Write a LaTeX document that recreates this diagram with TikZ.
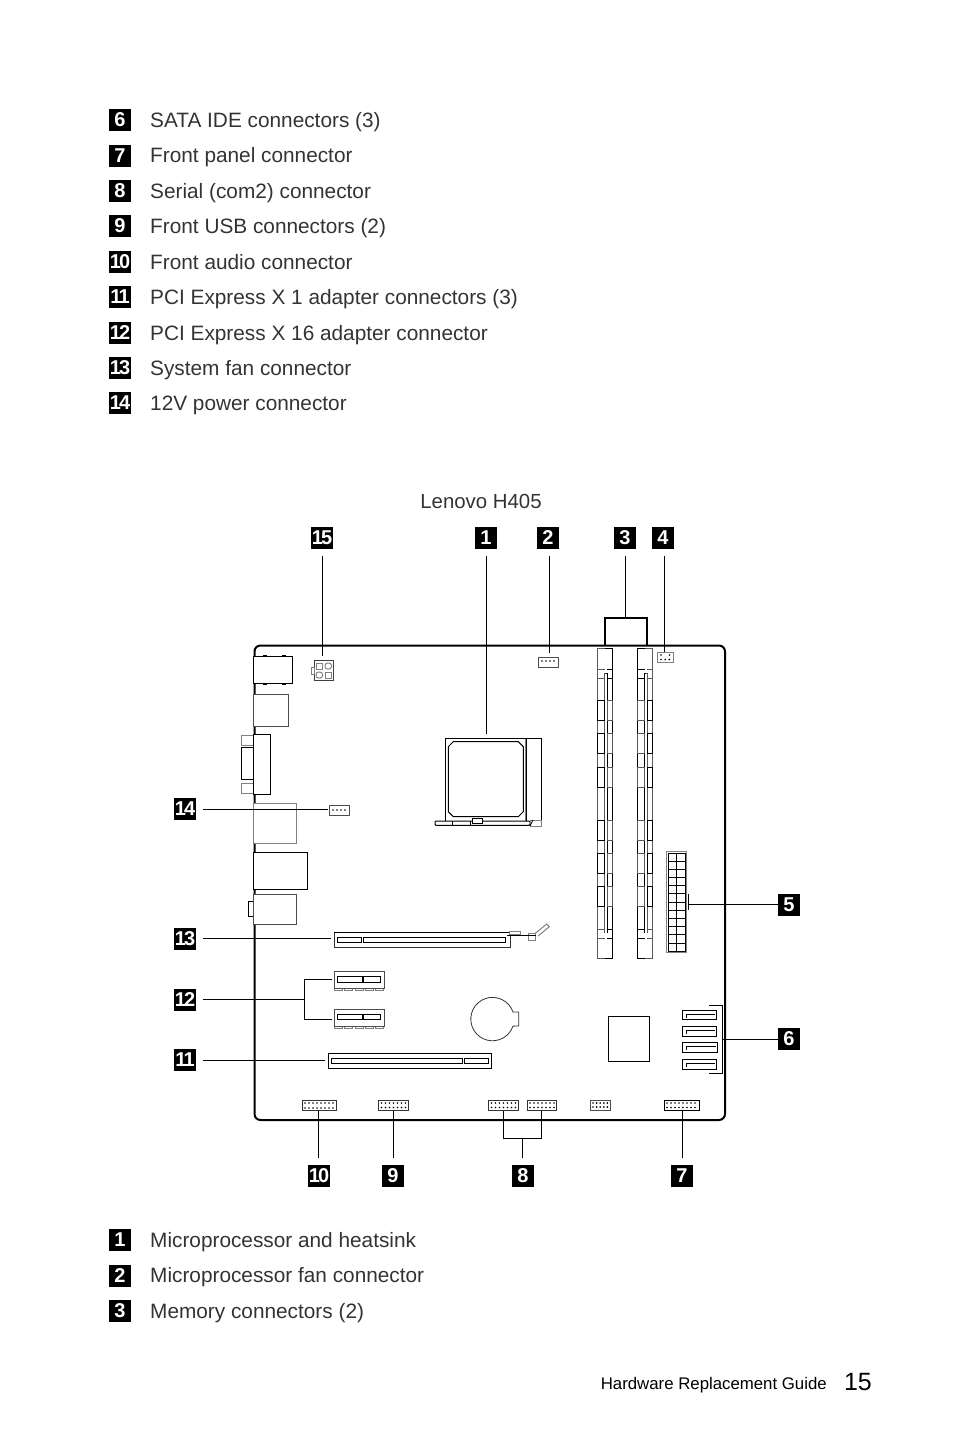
\documentclass[tikz,border=0pt]{standalone}
\usepackage{fontspec}
\setmainfont{Liberation Sans}
\newfontfamily\badgefont[LetterSpace=-9]{Liberation Sans}
\definecolor{inktext}{gray}{0.2}
\definecolor{soft}{gray}{0.5}
\tikzset{
	badge/.style={fill=black,text=white,minimum size=22,inner sep=0,outer sep=0,font=\badgefont\bfseries\fontsize{20}{20}\selectfont},
	callout/.style={badge,outer sep=7},
	item/.style={anchor=base west,inner sep=0,text=inktext,font=\fontsize{20.8}{26}\selectfont},
	part/.style={line width=1,fill=white},
	softpart/.style={part,draw=soft},
	leader/.style={line width=1.2}
}
\newcommand{\pinrow}[4]{\foreach \i in {1,...,#3} \fill ({#1+(\i-1)*#2},#4) circle (.95);}
\newcommand{\memslot}[3]{
	\draw[line width=1,#2] (#1,669.5)--(#1+7,669.5) (#1,678.5)--(#1+7,678.5) (#1,929.5)--(#1+7,929.5) (#1,938.5)--(#1+7,938.5);
	\draw[line width=1,#3] (#1+9,669.5)--(#1+15,669.5) (#1+9,678.5)--(#1+15,678.5) (#1+9,929.5)--(#1+15,929.5) (#1+9,938.5)--(#1+15,938.5);
	\draw[line width=1,#2] (#1+7,958.5)--(#1,958.5)--(#1,648.5)--(#1+7,648.5);
	\draw[line width=1,#3] (#1+7,958.5)--(#1+15,958.5)--(#1+15,648.5)--(#1+7,648.5);
	\draw[line width=1,#2] (#1+7,933)--(#1+7,673)--(#1+8.2,673);
	\draw[line width=1,#3] (#1+8.2,673)--(#1+9.5,673)--(#1+9.5,933);
	\foreach \y in {700.5,733.5,767.5,820.5,853.5,886.5}{
		\draw[part,draw=#3] (#1,\y) rectangle (#1+7,\y+20);
		\draw[part,draw=#2] (#1+9.5,\y) rectangle (#1+15,\y+20);
	}
}
\newcommand{\sataport}[3]{
	\draw[line width=1.2] (682.5,#1) rectangle (#3,#2);
	\draw[line width=.8] (686.7,#1+7) -- (686.7,#1+4) -- (#3-2,#1+4);
}
\begin{document}
\begin{tikzpicture}[x=1pt,y=-1pt]
	\useasboundingbox (0,0) rectangle (954,1452);
	\foreach \n/\y/\txt in {6/120/{SATA IDE connectors (3)},7/155.5/{Front panel connector},8/191/{Serial (com2) connector},9/226/{Front USB connectors (2)},10/262/{Front audio connector},11/297/{PCI Express X 1 adapter connectors (3)},12/333/{PCI Express X 16 adapter connector},13/368/{System fan connector},14/403/{12V power connector},1/1240/{Microprocessor and heatsink},2/1275.5/{Microprocessor fan connector},3/1311/{Memory connectors (2)}}{
		\node[badge] (l\n) at (120,\y) {\n};
		\node[item] (t\n) at (150,\y+7) {\txt};
	}
	\node[item,anchor=base,font=\fontsize{20.4}{24}\selectfont] (model) at (481,508) {Lenovo H405};
	\node[item,anchor=base east,text=black,font=\fontsize{16.8}{20}\selectfont] (guide) at (827,1389) {Hardware Replacement Guide};
	\node[item,anchor=base east,text=black,font=\fontsize{25}{30}\selectfont] (page) at (872,1390) {15};

	\draw[line width=2,rounded corners=6] (254.5,645.5) rectangle (725,1120);

	\draw[line width=1] (263,655)--(267,655) (282,655)--(286,655) (263,684.5)--(267,684.5) (282,684.5)--(286,684.5);
	\draw[part] (253.5,656) rectangle (292.5,683.5);
	\draw[softpart,draw=black!70] (253,694.5) rectangle (288.5,726.5);
	\draw[softpart] (241.7,735) rectangle (253.5,745);
	\draw[part,line width=.8] (241.7,747) rectangle (253.5,779);
	\draw[softpart] (241.7,783) rectangle (253.5,793);
	\draw[part] (253.5,734.5) rectangle (270.5,794.5);
	\draw[softpart] (253,803.5) rectangle (296.5,843.5);
	\draw[part] (253.5,852.5) rectangle (307.5,889.5);
	\draw[part] (248,901) rectangle (253.5,916);
	\draw[softpart,draw=black!70] (253.5,894) rectangle (296.5,924.5);

	\draw[part,draw=black!75] (314,660.7) rectangle (333.5,680);
	\draw[softpart] (311.5,667) rectangle (314,674);
	\draw[softpart] (316,663) rectangle (322.5,669);
	\draw[softpart,rounded corners=2.5] (325,663) -- (331.5,663) -- (331.5,669) -- (325,669) -- cycle;
	\draw[softpart,rounded corners=2.5] (316,672) -- (322.5,672) -- (322.5,678) -- (316,678) -- cycle;
	\draw[softpart] (325,672) rectangle (331.5,678);

	\draw[part] (445.5,738.5) rectangle (541.5,821);
	\draw[softpart] (525,738.5) -- (525,821);
	\draw[line width=1] (526.5,738.5) -- (526.5,821);
	\draw[part] (453.3,741.7)--(518.3,741.7)--(523.3,746.7)--(523.3,811.7)--(518.3,816.7)--(453.3,816.7)--(448.3,811.7)--(448.3,746.7)--cycle;
	\draw[part,rounded corners=1] (435,821) rectangle (530,825.3);
	\draw[part] (472,818.5) rectangle (482,823);
	\draw[line width=.8] (452,821)--(452,825) (470,821)--(470,825);
	\draw[softpart] (530,820) rectangle (541.5,826);
	\draw[line width=.8] (530,826)--(533,820);

	\draw[softpart,draw=black!70] (538.5,657.5) rectangle (558,667);
	\pinrow{542}{4}{4}{661}
	\draw[softpart,draw=black!70] (329.5,805) rectangle (349,815);
	\pinrow{333}{4}{4}{810}
	\draw[softpart] (657.7,652.3) rectangle (673.5,662);
	\pinrow{661}{8.5}{2}{655}
	\pinrow{661}{4.2}{3}{659.5}

	\memslot{597.5}{black!65}{black}
	\memslot{637.5}{black}{black!65}

	\draw[softpart] (666.7,851.5) rectangle (686,952.5);
	\draw[line width=1] (668,853) rectangle (685,951);
	\draw[line width=.8] (676.5,853)--(676.5,951);
	\foreach \y in {861,869.2,...,943.2} \draw[line width=.8] (668,\y)--(685,\y);

	\draw[line width=1] (608.5,1016) rectangle (649.5,1061.5);
	\sataport{1010.5}{1019.5}{716.5}
	\sataport{1026.5}{1036.5}{716.5}
	\sataport{1042.5}{1052.5}{717.5}
	\sataport{1059.5}{1069.5}{716.5}

	\draw[softpart,draw=black!80] (334,932.5) rectangle (510,947.5);
	\draw[line width=1] (334,932.5) -- (510,932.5);
	\draw[line width=.8] (337,937.5) rectangle (361.5,942.5);
	\draw[line width=.8] (363.5,937.5) rectangle (505,942.5);
	\draw[softpart] (509,931.5) rectangle (520,934);
	\draw[softpart] (528.5,933) rectangle (535,940.7);
	\draw[line width=1] (507,935) -- (536,935);
	\draw[softpart] (535,933.5)--(546.7,924)--(549.3,926.7)--(538,936);

	\foreach \y in {971.7,1009.3}{
		\foreach \x in {334.5,344.7,355,365.3,375.6} \draw[softpart,fill=none] (\x,\y+17) rectangle (\x+8,\y+19);
		\draw[softpart,draw=black!70] (334.3,\y) rectangle (384,\y+17);
		\draw[line width=.8] (337,\y+5) rectangle (362.5,\y+10.5);
		\draw[line width=.8] (363.5,\y+5) rectangle (380.5,\y+10.5);
	}

	\draw[line width=.8,draw=black!80] (518.7,1012) -- (513,1012) arc[start angle=-19,end angle=-341,radius=21.7] -- (518.7,1026) -- cycle;
	\draw[line width=1.2] (328.5,1053.5) rectangle (491.5,1068.5);
	\draw[line width=1] (331.5,1058.5) rectangle (462,1063.5);
	\draw[line width=1] (464.5,1058.5) rectangle (488.5,1063.5);

	\foreach \a/\b in {302.5/336.5,378.5/408.5,488.5/518.5,527.5/556.5}{
		\draw[line width=1,draw=black!80] (\a,1100.5) rectangle (\b,1110.5);
	}
	\pinrow{305}{4}{8}{1108}
	\pinrow{305}{4}{8}{1103}
	\pinrow{381.5}{4}{7}{1103}
	\pinrow{381.5}{4}{7}{1107.5}
	\pinrow{491.5}{4}{7}{1103}
	\pinrow{491.5}{4}{7}{1107.5}
	\pinrow{530}{4}{7}{1103}
	\pinrow{530}{4}{7}{1107.5}
	\draw[softpart,draw=black!70] (590,1100.5) rectangle (610.5,1110);
	\pinrow{593}{3.6}{5}{1103}
	\pinrow{593}{3.6}{5}{1107}
	\draw[line width=1] (664.5,1100.5) rectangle (699.5,1110.5);
	\pinrow{667}{4}{8}{1103}
	\pinrow{667}{4}{8}{1107.5}

	\foreach \n/\x/\y in {15/322/538,1/486/538,2/548/538,3/625/538,4/663/538,14/185/809,13/185/938.5,12/185/1000,11/185/1060,10/319/1176,9/393/1176,8/523/1176,7/682/1176}{
		\node[callout] (b\n) at (\x,\y) {\n};
	}
	\node[badge] (b5) at (789,904.5) {5};
	\node[badge] (b6) at (789,1038.5) {6};

	\coordinate (c15) at (322.5,656);
	\coordinate (c1) at (486.5,734);
	\coordinate (c2) at (549.5,653);
	\coordinate (c3) at (625.5,617.5);
	\coordinate (c4) at (664.5,652);
	\coordinate (c14) at (328,809.5);
	\coordinate (c13) at (331,938.5);
	\coordinate (c12) at (304.5,999.5);
	\coordinate (c11) at (325,1060.5);
	\coordinate (c10) at (318.5,1111);
	\coordinate (c9) at (393.5,1111);
	\coordinate (c8) at (522.5,1138.5);
	\coordinate (c7) at (682.5,1110.5);
	\coordinate (c5) at (688.5,904.5);
	\coordinate (c6) at (722.5,1039.5);

	\foreach \n in {15,1,2,3,4} \draw[leader] (b\n.south -| c\n) -- (c\n);
	\foreach \n in {14,13,12,11} \draw[leader] (b\n.east |- c\n) -- (c\n);
	\foreach \n in {10,9,8,7} \draw[leader] (b\n.north -| c\n) -- (c\n);
	\foreach \n in {5,6} \draw[leader] (b\n.west |- c\n) -- (c\n);

	\draw[line width=2] (605,645) |- (647,617.5) -- (647,645);
	\draw[leader] (332,979.5) -| (c12) |- (332,1019.5);
	\draw[leader] (503.5,1111) |- (541.5,1138.5) -- (541.5,1111);
	\draw[leader] (688.5,894) -- (688.5,910);
	\draw[leader] (709,1005.5) -| (722.5,1073.5) -- (709,1073.5);
\end{tikzpicture}
\end{document}
